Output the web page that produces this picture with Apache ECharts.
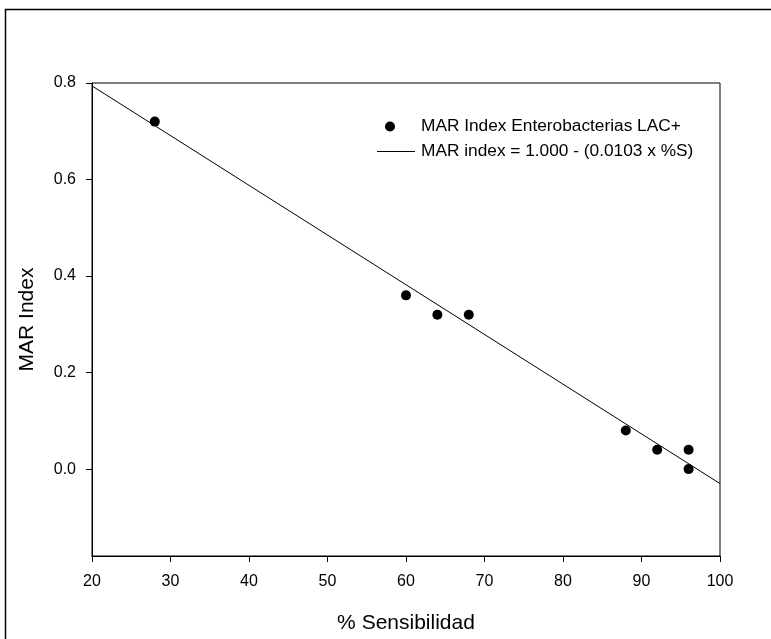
<!DOCTYPE html>
<html>
<head>
<meta charset="utf-8">
<script src="https://cdn.jsdelivr.net/npm/echarts@6/dist/echarts.min.js"></script>
<style>
html,body{margin:0;padding:0;background:#fff;}
#chart{width:771px;height:639px;}
</style>
</head>
<body>
<div id="chart"></div>
<script>
// Data
const sensX = [28, 60, 64, 68, 88, 92, 96, 96];
const marY = [0.72, 0.36, 0.32, 0.32, 0.08, 0.04, 0.04, 0.0];
const fitX = [20, 100];
const fitY = [0.794, -0.030];
const yTicks = [0.0, 0.2, 0.4, 0.6, 0.8];
const xTicks = [20, 30, 40, 50, 60, 70, 80, 90, 100];
const scatterName = 'MAR Index Enterobacterias LAC+';
const lineName = 'MAR index = 1.000 - (0.0103 x %S)';

const font = '"Liberation Sans", Arial, sans-serif';
const chart = echarts.init(document.getElementById('chart'), null, {renderer: 'canvas'});
const option = {
  animation: false,
  backgroundColor: '#fff',
  graphic: [{
    type: 'rect', silent: true,
    shape: {x: 5.5, y: 9.5, width: 800, height: 700},
    style: {fill: 'none', stroke: '#000', lineWidth: 1.5}
  }],
  grid: {left: 92, right: 51, top: 83, bottom: 82, show: true, borderColor: '#000', borderWidth: 1, backgroundColor: 'transparent'},
  legend: [{
    data: [{name: scatterName, icon: 'circle'}],
    orient: 'vertical', left: 380, top: 113,
    itemWidth: 40, itemHeight: 10,
    textStyle: {fontFamily: font, fontSize: 17.3, color: '#000', padding: [0, 0, 0, 6]},
    selectedMode: false
  }, {
    data: [{name: lineName, icon: 'rect'}],
    orient: 'vertical', left: 372, top: 138,
    itemWidth: 38, itemHeight: 1.2,
    itemStyle: {color: '#000', borderWidth: 0},
    textStyle: {fontFamily: font, fontSize: 17.3, color: '#000', padding: [0, 0, 0, 1]},
    selectedMode: false
  }],
  xAxis: {
    type: 'value', min: 20, max: 100, interval: 10,
    name: '% Sensibilidad', nameLocation: 'middle', nameGap: 57,
    nameTextStyle: {fontFamily: font, fontSize: 21, color: '#000'},
    axisLine: {show: true, onZero: false, lineStyle: {color: '#000', width: 1}},
    axisTick: {show: true, inside: false, length: 6, lineStyle: {color: '#000', width: 1}},
    axisLabel: {fontFamily: font, fontSize: 16, color: '#000', margin: 18,
      formatter: v => xTicks.includes(v) ? String(v) : ''},
    splitLine: {show: false}
  },
  yAxis: {
    type: 'value', min: -0.18, max: 0.8,
    name: 'MAR Index', nameLocation: 'middle', nameGap: 54,
    nameTextStyle: {fontFamily: font, fontSize: 21, color: '#000'},
    axisLine: {show: true, onZero: false, lineStyle: {color: '#000', width: 1}},
    axisTick: {show: true, inside: false, length: 6, customValues: yTicks, lineStyle: {color: '#000', width: 1}},
    axisLabel: {fontFamily: font, fontSize: 16, color: '#000', margin: 16, customValues: yTicks,
      formatter: v => Number(v).toFixed(1)},
    splitLine: {show: false}
  },
  series: [{
    name: lineName, type: 'line',
    data: fitX.map((x, i) => [x, fitY[i]]),
    symbol: 'none', silent: true, z: 2,
    lineStyle: {color: '#000', width: 1},
    itemStyle: {color: '#000'}
  }, {
    name: scatterName, type: 'scatter',
    data: sensX.map((x, i) => [x, marY[i]]),
    symbol: 'circle', symbolSize: 10, z: 3,
    itemStyle: {color: '#000', opacity: 1}
  }]
};
chart.setOption(option);
</script>
</body>
</html>
